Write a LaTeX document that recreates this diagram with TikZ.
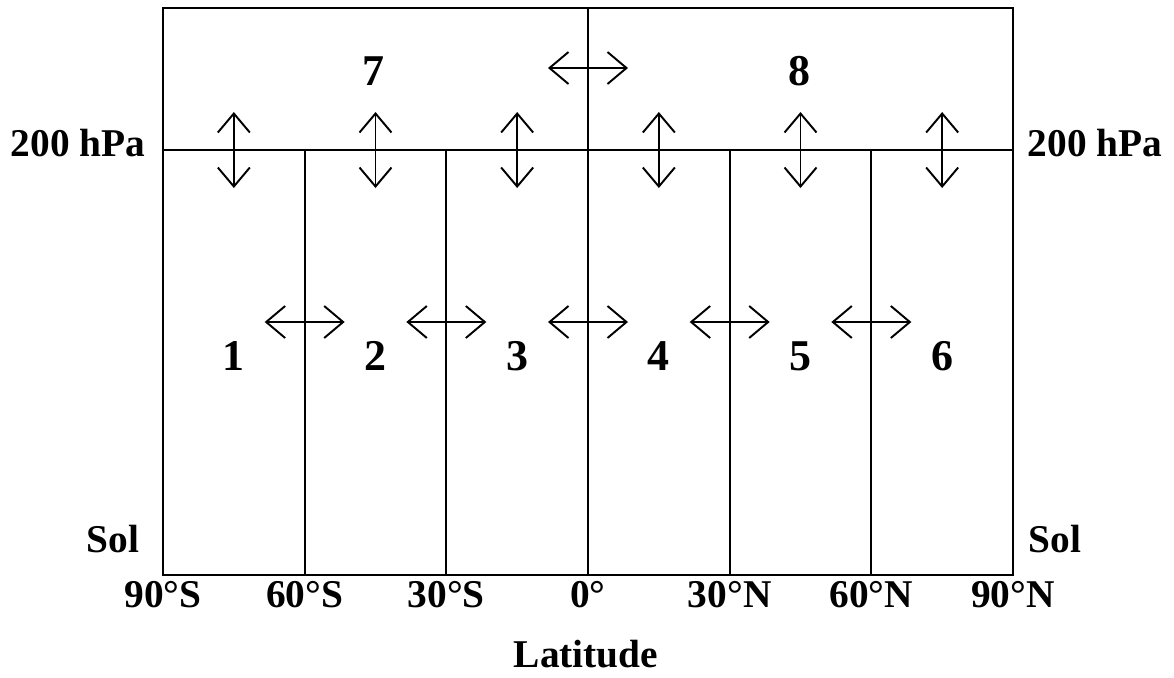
\documentclass[tikz,border=0pt]{standalone}
\usepackage{fontspec}
\setmainfont{Liberation Serif}
\usetikzlibrary{arrows.meta}

\begin{document}
\begin{tikzpicture}[
  wall/.style={line width=0.6pt},
  flux/.style={line width=0.55pt,{Straight Barb[length=1.9mm,width=3.2mm]}-{Straight Barb[length=1.9mm,width=3.2mm]}},
  lab/.style={font=\fontsize{11.2}{13}\selectfont\bfseries,anchor=base,inner sep=0pt},
  cell/.style={font=\fontsize{12.5}{15}\selectfont\bfseries,inner sep=0pt},
  x=1cm,y=1cm
]
  \useasboundingbox (0,0) rectangle (11.74,6.77);
  \draw[wall] (1.63,1.02) rectangle (10.13,6.69);
  \draw[wall] (1.63,5.27) -- (10.13,5.27);
  \draw[wall] (5.88,5.27) -- (5.88,6.69);
  \foreach \i in {1,...,5}
    \draw[wall] (1.63+\i*1.4167,1.02) -- (1.63+\i*1.4167,5.27);

  % cells under 200 hPa
  \foreach \i in {1,...,6} {
    \pgfmathsetmacro{\xx}{1.63+(\i-0.5)*1.4167}
    \draw[flux] (\xx,5.65) -- (\xx,4.89);
    \node[cell] (c\i) at (\xx,3.21) {\i};
  }
  \foreach \i in {1,...,5} {
    \pgfmathsetmacro{\xx}{1.63+\i*1.4167}
    \draw[flux] (\xx-0.40,3.55) -- (\xx+0.40,3.55);
  }

  % upper boxes
  \draw[flux] (5.48,6.09) -- (6.28,6.09);
  \node[cell] (c7) at (3.73,6.06) {7};
  \node[cell] (c8) at (7.99,6.06) {8};

  \node[lab] (lhpa) at (0.78,5.21) {200 hPa};
  \node[lab] (rhpa) at (10.95,5.21) {200 hPa};
  \node[lab] (lsol) at (1.13,1.25) {Sol};
  \node[lab] (rsol) at (10.55,1.25) {Sol};
  \foreach \lat [count=\i from 0] in {90°S,60°S,30°S,0°,30°N,60°N,90°N}
    \node[lab] (lat\i) at (1.63+\i*1.4167,0.70) {\lat};
  \node[lab] (xlab) at (5.86,0.10) {Latitude};
\end{tikzpicture}
\end{document}
